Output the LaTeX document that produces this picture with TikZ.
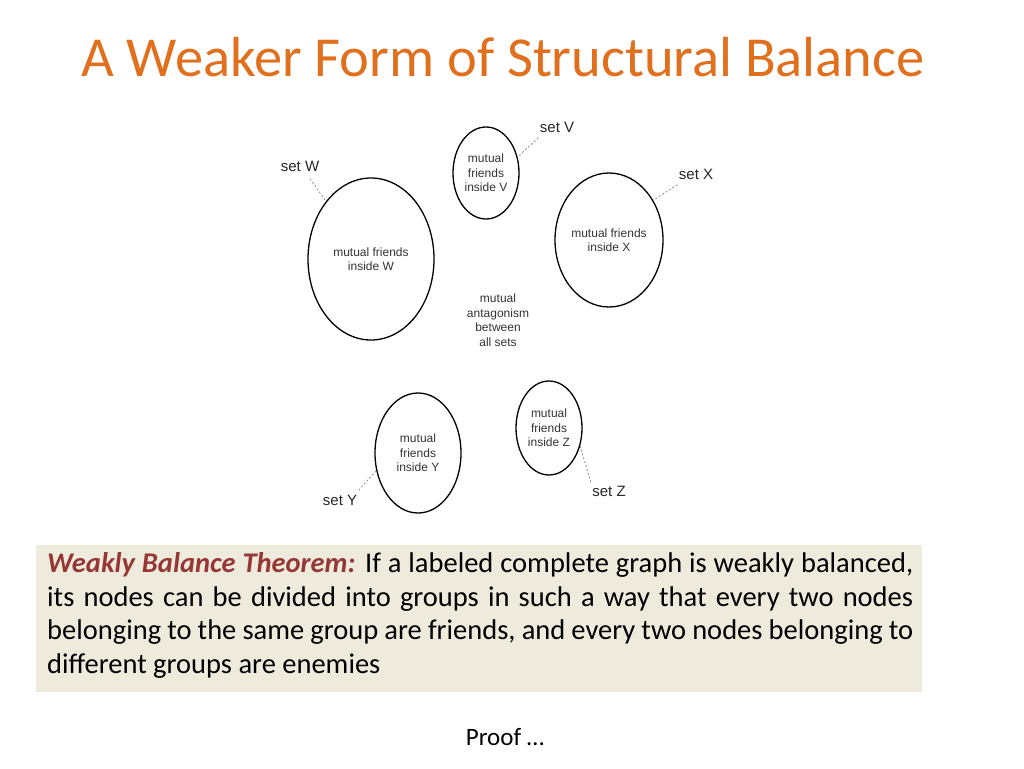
\documentclass[tikz,border=0pt]{standalone}
\usepackage{fontspec}
\setmainfont{Carlito}
\newfontfamily\diag{Liberation Sans}
\usetikzlibrary{shapes.geometric}
\definecolor{ttl}{HTML}{E0701E}
\definecolor{thm}{HTML}{953735}
\definecolor{boxbg}{HTML}{EEEBDC}
\begin{document}
\begin{tikzpicture}[x=1pt,y=-1pt,
  set/.style={draw,ellipse,line width=1.3pt,inner sep=0pt,font=\diag\fontsize{12}{14.5}\selectfont,align=center,text=black!80},
  lab/.style={font=\diag\fontsize{15}{17}\selectfont,text=black!85},
  dsh/.style={dashed,gray,line width=0.7pt,dash pattern=on 2pt off 2pt}]
\useasboundingbox (0,0) rectangle (1024,768);
\node[text=ttl,font=\fontsize{56.5}{64}\selectfont] (title) at (503,57) {A Weaker Form of Structural Balance};
\node[set,minimum width=126,minimum height=162] (W) at (371,259) {mutual friends\\inside W};
\node[set,minimum width=66,minimum height=92] (V) at (486,173) {mutual\\friends\\inside V};
\node[set,minimum width=108,minimum height=134] (X) at (609,240) {mutual friends\\inside X};
\node[set,minimum width=86,minimum height=120] (Y) at (418,453) {mutual\\friends\\inside Y};
\node[set,minimum width=66,minimum height=94] (Z) at (549,428) {mutual\\friends\\inside Z};
\node[font=\diag\fontsize{12}{14.5}\selectfont,align=center,text=black!80] (mid) at (498,320) {mutual\\antagonism\\between\\all sets};
\node[lab] (lW) at (300,166) {set W};
\node[lab] (lV) at (557,127) {set V};
\node[lab] (lX) at (696,174) {set X};
\node[lab] (lY) at (340,500) {set Y};
\node[lab] (lZ) at (609,491) {set Z};
\draw[dsh] (lW.south) ++(10,4) coordinate (a1) -- (W.128);
\draw[dsh] (lV.south west) ++(2,2) coordinate (a2) -- (V.27);
\draw[dsh] (lX.south west) ++(2,2) coordinate (a3) -- (X.42);
\draw[dsh] (lY.north east) ++(-2,-1) coordinate (a4) -- (Y.203);
\draw[dsh] (lZ.north west) ++(2,0) coordinate (a5) -- (Z.-30);
\fill[boxbg] (36,545) rectangle (922,692);
\node[anchor=north west,text width=866,align=justify,inner sep=0pt,font=\fontsize{28.5}{33.8}\selectfont] (thm) at (47,552)
 {\textcolor{thm}{\textbf{\textit{Weakly Balance Theorem:}}} If a labeled complete graph is weakly balanced, its nodes can be divided into groups in such a way that every two nodes belonging to the same group are friends, and every two nodes belonging to different groups are enemies};
\node[font=\fontsize{25}{30}\selectfont] (proof) at (505,737) {Proof …};
\end{tikzpicture}
\end{document}
